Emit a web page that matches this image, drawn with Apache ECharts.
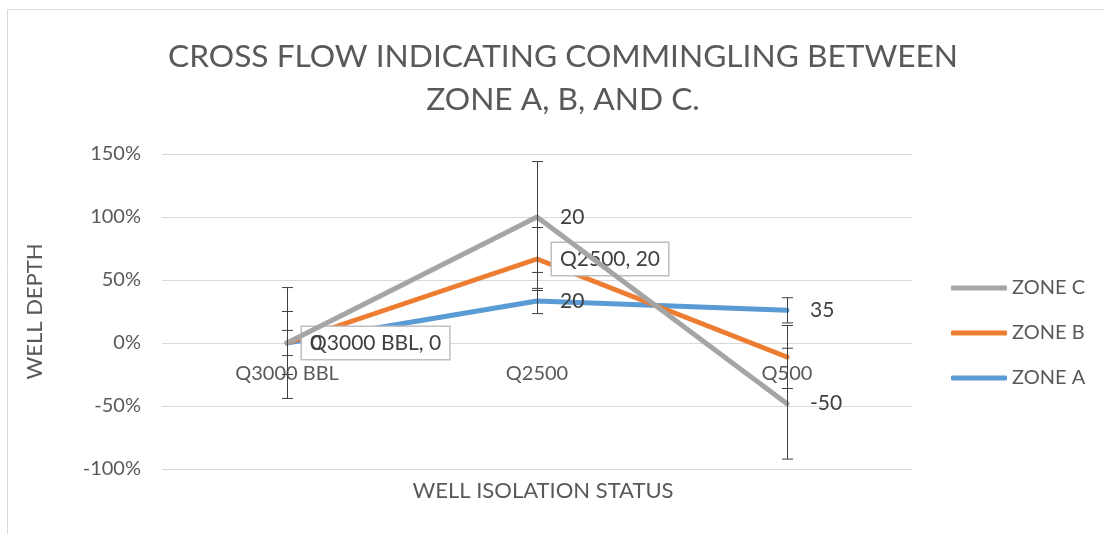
<!DOCTYPE html>
<html>
<head>
<meta charset="utf-8">
<script src="https://cdn.jsdelivr.net/npm/echarts@6/dist/echarts.min.js"></script>
<style>html,body{margin:0;padding:0;background:#fff;}#chart{width:1104px;height:534px;}</style>
</head>
<body>
<div id="chart"></div>
<script>
// ---- data ----
var categories = ['Q3000 BBL', 'Q2500', 'Q500'];
var zoneA = [0, 20, 35];
var zoneB = [0, 20, -50];
var zoneC = [0, 20, -50];
// error bar half-widths, in percent points
var errA = [10, 10, 10];
var errB = [25, 25, 25];
var errC = [44, 44, 44];
// which points carry a data label
var showLabA = [true, true, true];
var showLabB = [true, true, false];
var showLabC = [true, true, true];
var yTicks = [-100, -50, 0, 50, 100, 150];
var titleLines = ['CROSS FLOW INDICATING COMMINGLING BETWEEN', 'ZONE A, B, AND C.'];

// 100% stacking (Excel style: share of sum of absolute values)
function pctStack(seriesList) {
  var out = seriesList.map(function () { return []; });
  for (var i = 0; i < categories.length; i++) {
    var tot = 0;
    seriesList.forEach(function (s) { tot += Math.abs(s[i]); });
    var cum = 0;
    seriesList.forEach(function (s, k) {
      cum += s[i];
      out[k].push(tot === 0 ? 0 : cum / tot * 100);
    });
  }
  return out;
}
var stacked = pctStack([zoneA, zoneB, zoneC]);
var pA = stacked[0], pB = stacked[1], pC = stacked[2];

var FONT = 'Lato, "Open Sans", sans-serif';
var TXT = '#595959';
var LBL = '#404040';

function errData(p, e) {
  return p.map(function (v, i) { return [i, v - e[i], v + e[i]]; });
}
var errAll = [].concat(errData(pA, errA), errData(pB, errB), errData(pC, errC));

function withLabels(p, show) {
  return p.map(function (v, i) { return { value: v, label: { show: show[i] } }; });
}
function plainLabel(raw) {
  return {
    show: true, position: 'right', distance: 23,
    fontFamily: FONT, fontSize: 21, color: LBL,
    formatter: function (p) { return String(raw[p.dataIndex]); }
  };
}
function lineSeries(name, data, color, z, label) {
  return {
    name: name, type: 'line', data: data, z: z,
    symbol: 'circle', symbolSize: 0, showSymbol: true,
    itemStyle: { color: color },
    color: color, lineStyle: { width: 5, cap: 'round', join: 'round', color: color },
    label: label, labelLayout: { hideOverlap: false }
  };
}

var chart = echarts.init(document.getElementById('chart'), null, { renderer: 'canvas' });
chart.setOption({
  animation: false,
  backgroundColor: '#fff',
  title: [{
    text: titleLines.join('\n'),
    left: 558, top: 30, textAlign: 'center',
    textStyle: { fontFamily: FONT, fontWeight: 'normal', fontSize: 31.7, color: TXT, lineHeight: 43 }
  }, {
    text: 'WELL ISOLATION STATUS',
    left: 538, top: 475, textAlign: 'center',
    textStyle: { fontFamily: FONT, fontWeight: 'normal', fontSize: 22, color: TXT }
  }],
  graphic: [
    { type: 'line', shape: { x1: 7.5, y1: 9.5, x2: 1104, y2: 9.5 }, style: { stroke: '#D9D9D9', lineWidth: 1 } },
    { type: 'line', shape: { x1: 7.5, y1: 9.5, x2: 7.5, y2: 534 }, style: { stroke: '#D9D9D9', lineWidth: 1 } }
  ],
  legend: {
    orient: 'vertical', left: 951, top: 278, padding: 0,
    data: ['ZONE C', 'ZONE B', 'ZONE A'],
    icon: 'roundRect', itemWidth: 56, itemHeight: 5, itemGap: 25, itemTextGap: 3,
    textStyle: { fontFamily: FONT, fontSize: 20, color: TXT }
  },
  grid: { left: 162, right: 192, top: 154, bottom: 65 },
  xAxis: {
    type: 'category', data: categories, boundaryGap: true,
    position: 'bottom', offset: -126,
    axisLine: { show: false, onZero: false },
    axisTick: { show: false },
    axisLabel: { margin: 21, fontFamily: FONT, fontSize: 20, color: TXT }
  },
  yAxis: {
    type: 'value', min: yTicks[0], max: yTicks[yTicks.length - 1], interval: 50,
    name: 'WELL DEPTH', nameLocation: 'middle', nameGap: 116,
    nameTextStyle: { fontFamily: FONT, fontSize: 22, color: TXT },
    axisLine: { show: false }, axisTick: { show: false },
    axisLabel: { margin: 21, fontFamily: FONT, fontSize: 20, color: TXT, formatter: '{value}%' },
    splitLine: { lineStyle: { color: '#D9D9D9', width: 1 } }
  },
  series: [
    lineSeries('ZONE A', withLabels(pA, showLabA), '#5B9BD5', 2, plainLabel(zoneA)),
    lineSeries('ZONE B', withLabels(pB, showLabB), '#ED7D31', 3, {
      show: true, position: 'right', distance: 15,
      fontFamily: FONT, fontSize: 21, color: LBL,
      backgroundColor: '#fff', borderColor: '#BFBFBF', borderWidth: 1.5,
      padding: [6, 8, 5, 8],
      formatter: function (p) { return categories[p.dataIndex] + ', ' + zoneB[p.dataIndex]; }
    }),
    lineSeries('ZONE C', withLabels(pC, showLabC), '#A5A5A5', 4, plainLabel(zoneC)),
    {
      type: 'custom', name: 'err', z: 5, silent: true,
      data: errAll,
      renderItem: function (params, api) {
        var lo = api.coord([api.value(0), api.value(1)]);
        var hi = api.coord([api.value(0), api.value(2)]);
        var x = Math.round(lo[0]) + 0.5, hw = 5.5;
        var st = { stroke: '#404040', lineWidth: 1 };
        return {
          type: 'group',
          children: [
            { type: 'line', shape: { x1: x, y1: hi[1], x2: x, y2: lo[1] }, style: st },
            { type: 'line', shape: { x1: x - hw, y1: hi[1], x2: x + hw, y2: hi[1] }, style: st },
            { type: 'line', shape: { x1: x - hw, y1: lo[1], x2: x + hw, y2: lo[1] }, style: st }
          ]
        };
      }
    }
  ]
});
</script>
</body>
</html>
